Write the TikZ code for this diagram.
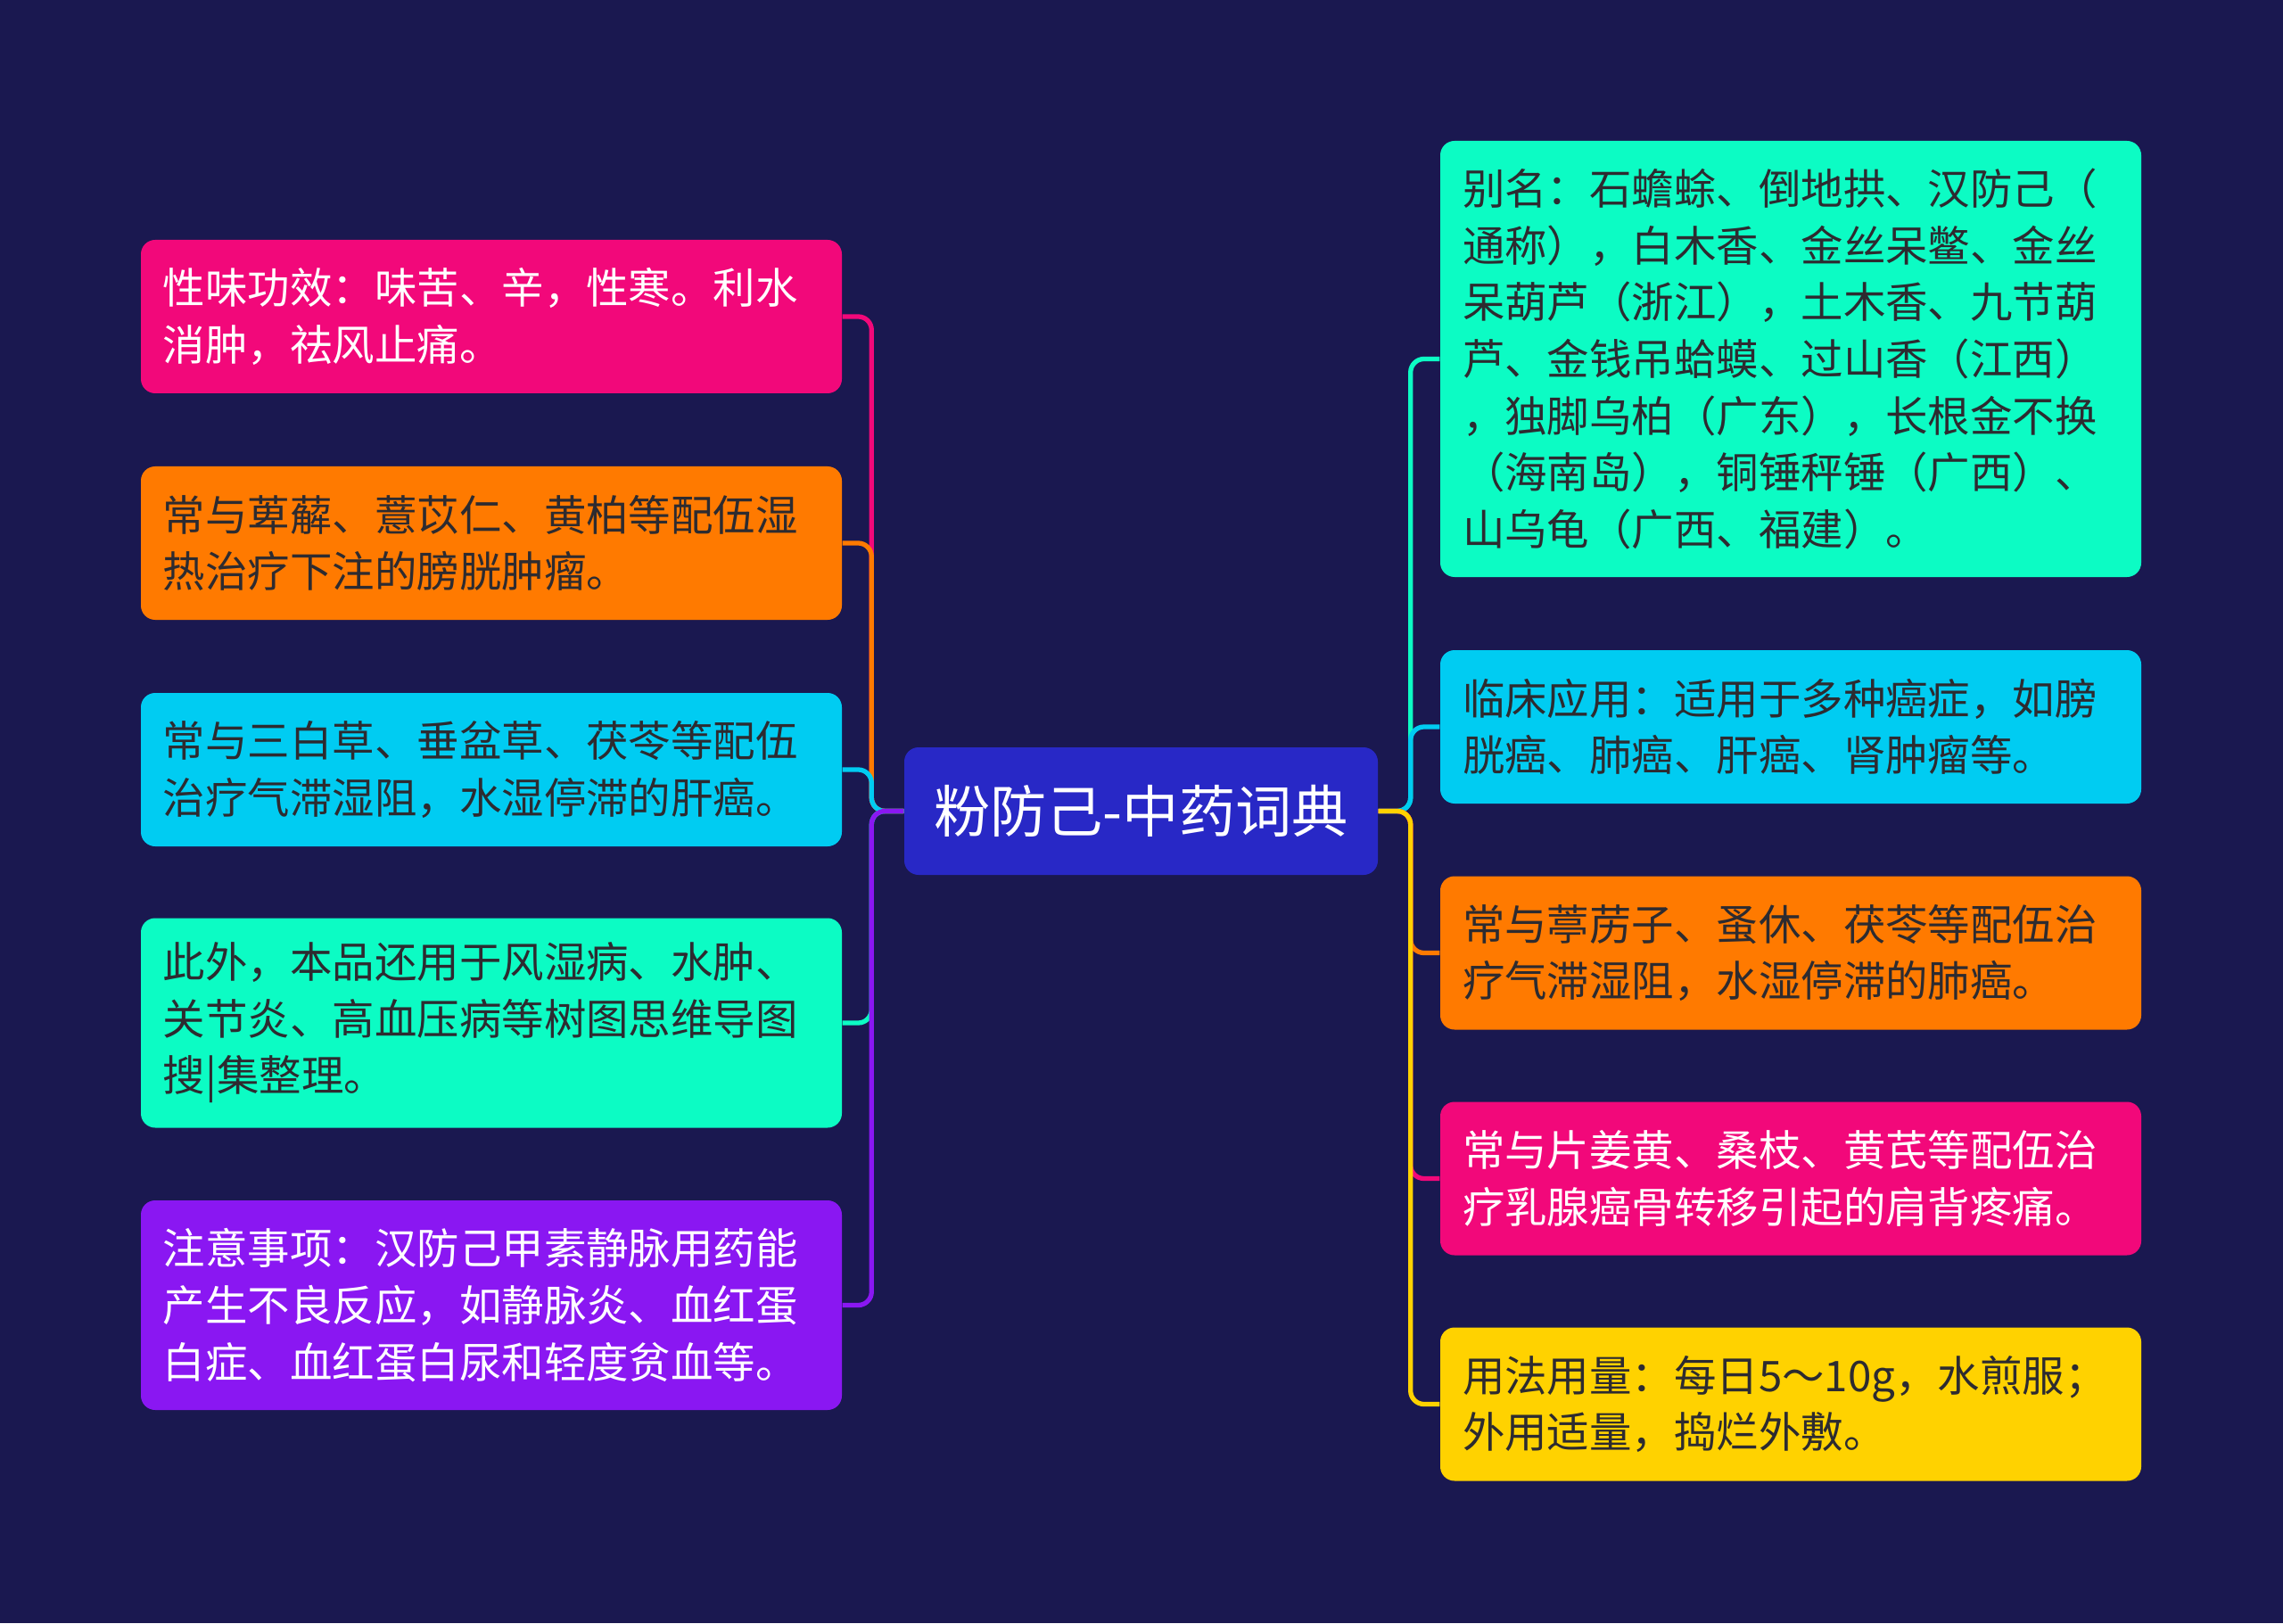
\documentclass[tikz,border=0pt]{standalone}
\usepackage{fontspec}
\newfontfamily\cjk{Noto Sans CJK SC}
\usepackage{xcolor}
\definecolor{navy}{HTML}{1A1850}
\definecolor{hubblue}{HTML}{2828C6}
\definecolor{rose}{HTML}{F2087A}
\definecolor{amber}{HTML}{FF7A00}
\definecolor{sky}{HTML}{00CCF2}
\definecolor{mint}{HTML}{0CFCC4}
\definecolor{grape}{HTML}{8A17F2}
\definecolor{gold}{HTML}{FFD200}
\definecolor{ink}{HTML}{2D2B30}
\usepackage{tikz}
\usetikzlibrary{calc}

\begin{document}
\begin{tikzpicture}[
  x=1cm, y=1cm,
  leaf/.style={rounded corners=0.16cm, minimum width=7.86cm, text width=7.36cm,
    inner xsep=0.25cm, inner ysep=0pt, align=left, text=ink,
    font=\fontsize{13.5}{18.1}\selectfont\cjk},
  twoline/.style={leaf, minimum height=1.72cm},
  threeline/.style={leaf, minimum height=2.35cm},
  hub/.style={rounded corners=0.16cm, fill=hubblue, text=white,
    minimum width=5.31cm, minimum height=1.43cm,
    font=\fontsize{18}{22}\selectfont\cjk},
  link/.style={line width=1.5pt, rounded corners=0.15cm}
]

% background
\fill[navy] (0,0) rectangle (25.6,18.2);
\useasboundingbox (0,0) rectangle (25.6,18.2);

% centre
\node[hub] (hub) at (12.795, 9.105) {粉防己-中药词典};

% left side
\node[twoline, fill=rose, text=white] (l1) at (5.51, 14.65)
  {性味功效：味苦、辛，性寒。利水\\消肿，祛风止痛。};
\node[twoline, fill=amber] (l2) at (5.51, 12.11)
  {常与萆薢、薏苡仁、黄柏等配伍湿\\热治疗下注的膀胱肿瘤。};
\node[twoline, fill=sky] (l3) at (5.51, 9.57)
  {常与三白草、垂盆草、茯苓等配伍\\治疗气滞湿阻，水湿停滞的肝癌。};
\node[threeline, fill=mint] (l4) at (5.51, 6.73)
  {此外，本品还用于风湿病、水肿、\\关节炎、高血压病等树图思维导图\\搜|集整理。};
\node[threeline, fill=grape, text=white] (l5) at (5.51, 3.565)
  {注意事项：汉防己甲素静脉用药能\\产生不良反应，如静脉炎、血红蛋\\白症、血红蛋白尿和轻度贫血等。};

% right side
\node[leaf, fill=mint, minimum height=4.89cm] (r1) at (20.08, 14.175)
  {别名：石蟾蜍、倒地拱、汉防己（\\通称），白木香、金丝呆鳖、金丝\\呆葫芦（浙江），土木香、九节葫\\芦、金钱吊蛤蟆、过山香（江西）\\，独脚乌柏（广东），长根金不换\\（海南岛），铜锤秤锤（广西）、\\山乌龟（广西、福建）。};
\node[twoline, fill=sky] (r2) at (20.08, 10.05)
  {临床应用：适用于多种癌症，如膀\\胱癌、肺癌、肝癌、肾肿瘤等。};
\node[twoline, fill=amber] (r3) at (20.08, 7.515)
  {常与葶苈子、蚤休、茯苓等配伍治\\疗气滞湿阻，水湿停滞的肺癌。};
\node[twoline, fill=rose, text=white] (r4) at (20.08, 4.985)
  {常与片姜黄、桑枝、黄芪等配伍治\\疗乳腺癌骨转移引起的肩背疼痛。};
\node[twoline, fill=gold] (r5) at (20.08, 2.455)
  {用法用量：每日5～10g，水煎服；\\外用适量，捣烂外敷。};

% connectors, left
\draw[link, rose]  (hub.west) -- ([xshift=-0.36cm]hub.west) |- (l1.east);
\draw[link, amber] (hub.west) -- ([xshift=-0.36cm]hub.west) |- (l2.east);
\draw[link, sky]   (hub.west) -- ([xshift=-0.36cm]hub.west) |- (l3.east);
\draw[link, mint]  (hub.west) -- ([xshift=-0.36cm]hub.west) |- (l4.east);
\draw[link, grape] (hub.west) -- ([xshift=-0.36cm]hub.west) |- (l5.east);

% connectors, right
\draw[link, mint]  (hub.east) -- ([xshift=0.36cm]hub.east) |- (r1.west);
\draw[link, sky]   (hub.east) -- ([xshift=0.36cm]hub.east) |- (r2.west);
\draw[link, amber] (hub.east) -- ([xshift=0.36cm]hub.east) |- (r3.west);
\draw[link, rose]  (hub.east) -- ([xshift=0.36cm]hub.east) |- (r4.west);
\draw[link, gold]  (hub.east) -- ([xshift=0.36cm]hub.east) |- (r5.west);

\end{tikzpicture}
\end{document}
